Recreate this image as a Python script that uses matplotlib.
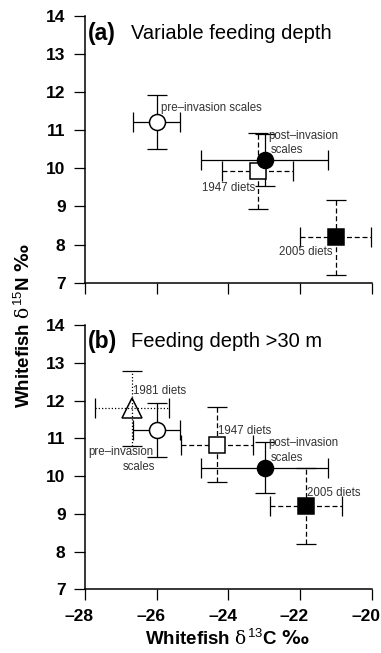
import matplotlib
matplotlib.use("Agg")
import matplotlib.pyplot as plt
import matplotlib.transforms as mtransforms

plt.rcParams['font.family'] = ['Liberation Sans', 'DejaVu Sans']
plt.rcParams['mathtext.fontset'] = 'custom'
plt.rcParams['mathtext.rm'] = 'DejaVu Serif'
plt.rcParams['mathtext.it'] = 'DejaVu Serif'
plt.rcParams['mathtext.bf'] = 'DejaVu Serif'
plt.rcParams['mathtext.sf'] = 'Liberation Sans'
plt.rcParams['mathtext.cal'] = 'DejaVu Sans:bold'

# ---- data ----
groups_a = ['1947 diets', '2005 diets', 'pre-invasion scales', 'post-invasion scales']
a_x = [-23.18, -21.01, -26.0, -22.99]
a_y = [9.94, 8.19, 11.21, 10.23]
a_xerr = [0.99, 1.0, 0.65, 1.77]
a_yerr = [1.0, 0.98, 0.71, 0.68]

groups_b = ['1981 diets', '1947 diets', '2005 diets', 'pre-invasion scales', 'post-invasion scales']
b_x = [-26.69, -24.32, -21.84, -26.0, -22.99]
b_y = [11.79, 10.83, 9.2, 11.22, 10.22]
b_xerr = [1.02, 1.0, 1.0, 0.65, 1.77]
b_yerr = [1.0, 1.0, 1.0, 0.71, 0.68]

x_ticks = [-28, -26, -24, -22, -20]
x_ticklabels = ['–28', '–26', '–24', '–22', '–20']
y_ticks = [7, 8, 9, 10, 11, 12, 13, 14]

styles = {
    'pre-invasion scales': dict(marker='o', fc='white', ms=11.5, ls='-'),
    'post-invasion scales': dict(marker='o', fc='black', ms=11.5, ls='-'),
    '1947 diets': dict(marker='s', fc='white', ms=11.0, ls=(0, (4, 2.2))),
    '2005 diets': dict(marker='s', fc='black', ms=11.5, ls=(0, (4, 2.2))),
    '1981 diets': dict(marker='^', fc='none', ms=14.5, ls=(0, (1, 1.6))),
}

labels_a = [('pre–invasion scales', -25.88, 11.59), ('post–invasion', -22.88, 10.86),
            ('scales', -22.81, 10.48), ('1947 diets', -24.74, 9.48), ('2005 diets', -22.58, 7.80)]
labels_b = [('1981 diets', -26.67, 12.26), ('pre–invasion', -27.91, 10.63), ('scales', -26.95, 10.23),
            ('1947 diets', -24.28, 11.20), ('post–invasion', -22.88, 10.87), ('scales', -22.81, 10.47),
            ('2005 diets', -21.81, 9.56)]

W, H = 381, 653
fig = plt.figure(figsize=(W / 100, H / 100), dpi=100)
L, R = 85 / W, 371.7 / W
ax1 = fig.add_axes([L, 1 - 282.7 / H, R - L, (282.7 - 16) / H])
ax2 = fig.add_axes([L, 1 - 589.3 / H, R - L, (589.3 - 325) / H])


def draw(ax, groups, xs, ys, xe, ye, labels, tag, title):
    for g, x, y, dx, dy in zip(groups, xs, ys, xe, ye):
        st = styles[g]
        cont = ax.errorbar(x, y, xerr=dx, yerr=dy, fmt='none', ecolor='black',
                           elinewidth=0.9, capsize=7.5, capthick=0.9, zorder=2)
        for lc in cont[2]:
            lc.set_linestyle(st['ls'])
        ax.plot(x, y, marker=st['marker'], ms=st['ms'], mfc=st['fc'], mec='black',
                mew=1.1, ls='none', zorder=3)
    for t, x, y in labels:
        ax.text(x, y, t, fontsize=8.3, color='#333333', ha='left', va='center', zorder=4)
    ax.text(-27.93, 13.55, tag, fontsize=16.5, fontweight='bold', ha='left', va='center')
    ax.text(-26.72, 13.55, title, fontsize=14.5, ha='left', va='center')
    ax.set_xlim(-28, -20)
    ax.set_ylim(7, 14)
    ax.set_xticks(x_ticks)
    ax.set_xticklabels(x_ticklabels)
    ax.set_yticks(y_ticks)
    for s in ['top', 'right']:
        ax.spines[s].set_visible(False)
    for s in ['left', 'bottom']:
        ax.spines[s].set_linewidth(1.1)
    ax.tick_params(direction='out', length=8, width=0.9, pad=6, labelsize=12.5)
    for lab in ax.get_xticklabels() + ax.get_yticklabels():
        lab.set_fontweight('bold')


draw(ax1, groups_a, a_x, a_y, a_xerr, a_yerr, labels_a, '(a)', 'Variable feeding depth')
draw(ax2, groups_b, b_x, b_y, b_xerr, b_yerr, labels_b, '(b)', 'Feeding depth >30 m')
ax1.tick_params(axis='x', labelbottom=False)

shift = mtransforms.ScaledTranslation(-5.5 / 100, 0, fig.dpi_scale_trans)
for lab in ax2.get_xticklabels():
    lab.set_transform(lab.get_transform() + shift)

fig.text(227 / W, 1 - 639 / H, r'Whitefish $\delta^{\mathsf{13}}$C $\mathcal{‰}$', fontsize=13.5,
         fontweight='bold', ha='center', va='center')
fig.text(24 / W, 1 - 326 / H, r'Whitefish $\delta^{\mathsf{15}}$N $\mathcal{‰}$', fontsize=13.5,
         fontweight='bold', ha='center', va='center', rotation=90)

fig.savefig('out.png', dpi=100)
